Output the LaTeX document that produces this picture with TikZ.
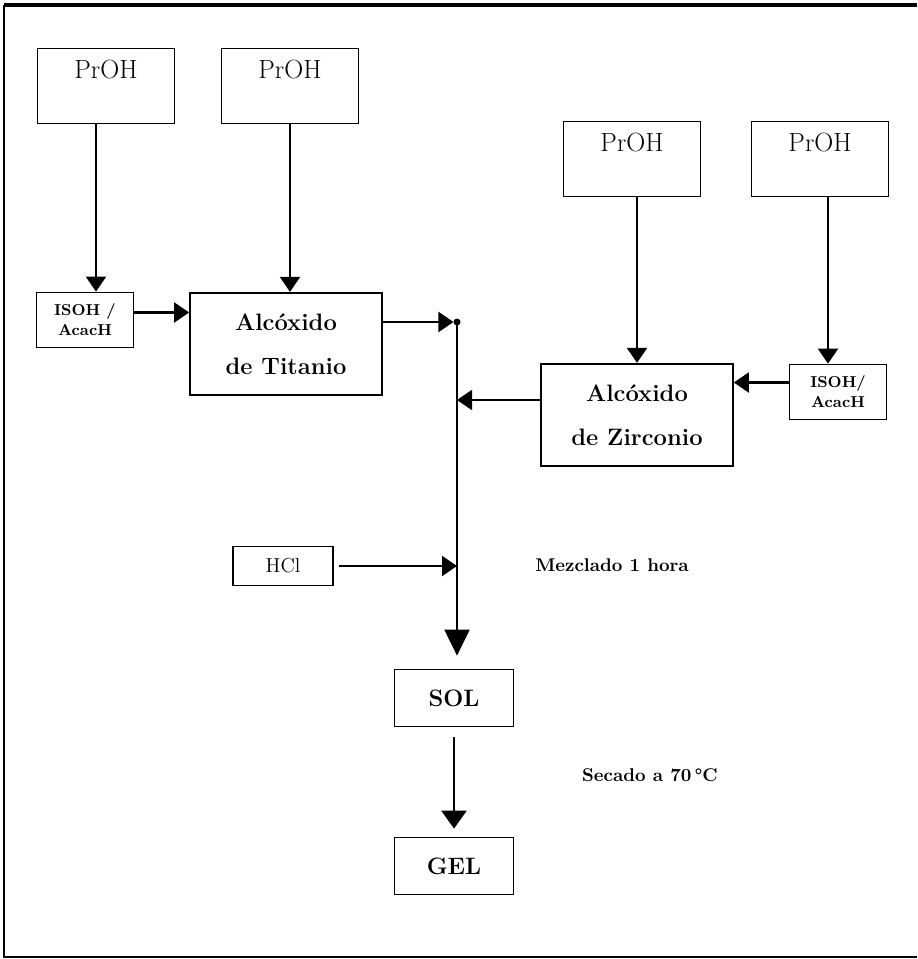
\documentclass[tikz,border=0pt]{standalone}
\usepackage{tikz}
\usetikzlibrary{arrows.meta, positioning}
\tikzset{
  src/.style={rectangle, draw, line width=1pt, minimum width=2.74cm, inner ysep=0.27cm, text height=0.34cm, text depth=0.62cm, font=\fontsize{15}{18}\selectfont},
  rxn/.style={rectangle, draw, line width=1pt, minimum width=3.84cm, minimum height=2.05cm, align=center, font=\fontsize{13.5}{25}\selectfont\bfseries},
  aux/.style={rectangle, draw, line width=1pt, minimum width=1.94cm, minimum height=1.1cm, align=center, inner sep=2pt, font=\fontsize{9}{11.5}\selectfont\bfseries},
  hclbox/.style={rectangle, draw, line width=1pt, minimum width=2cm, minimum height=0.78cm, font=\fontsize{11.5}{13}\selectfont},
  prod/.style={rectangle, draw, line width=1pt, minimum width=2.38cm, minimum height=1.14cm, font=\fontsize{13.5}{16}\selectfont\bfseries},
  note/.style={font=\fontsize{10.5}{13}\selectfont\bfseries},
  arr/.style={-{Triangle[length=0.3cm, width=0.4cm]}, line width=1.2pt},
  arrbig/.style={-{Triangle[length=0.52cm, width=0.5cm]}, line width=1.2pt},
  arrmid/.style={-{Triangle[length=0.36cm, width=0.5cm]}, line width=1.4pt},
}
\begin{document}
\begin{tikzpicture}[x=0.02cm, y=-0.02cm]
\useasboundingbox (0,0) rectangle (917,959);
% frame
\draw[line width=2.5pt] (4,5) -- (917,5);
\draw[line width=1pt] (917,957) -- (4,957) -- (4,5);
% sources
\node[src] (prA) at (106,86) {PrOH};
\node[src] (prB) at (290,86) {PrOH};
\node[src] (prC) at (632,159) {PrOH};
\node[src] (prD) at (820,159) {PrOH};
\node[aux] (isoL) at (85,320) {ISOH /\\AcacH};
\node[rxn] (ti) at (286,344) {Alc\'oxido\\de Titanio};
\node[rxn] (zr) at (637,415) {Alc\'oxido\\de Zirconio};
\node[aux] (isoR) at (838,392) {ISOH/\\AcacH};
\node[hclbox] (hcl) at (283,566) {HCl};
\node[prod] (sol) at (454,698) {SOL};
\node[prod] (gel) at (454,866) {GEL};
\node[note] (mez) at (612,565) {Mezclado 1 hora};
\node[note] (sec) at (650,775) {Secado a 70\,°C};
\coordinate (jn) at (457,322);
\fill (jn) circle (0.07cm);
% arrows
\coordinate (a1) at ([xshift=-0.2cm]prA.south);
\coordinate (a4) at ([xshift=0.16cm]prD.south);
\draw[arr] (a1) -- (a1 |- isoL.north);
\draw[arr] (prB.south) -- (prB.south |- ti.north);
\draw[arr] (zr.north |- prC.south) -- (zr.north);
\draw[arr] (a4) -- (a4 |- isoR.north);
\draw[arr] ([yshift=0.15cm]isoL.east) -- ([yshift=0.15cm]isoL.east -| ti.west);
\draw[arr, shorten >=2pt] (ti.east |- jn) -- (jn);
\draw[arr] ([yshift=0.19cm]isoR.west) -- ([yshift=0.19cm]isoR.west -| zr.east);
\draw[arr] ([yshift=0.3cm]zr.west) -- ([yshift=0.3cm]zr.west -| jn);
\draw[arr] ([xshift=0.1cm]hcl.east) -- (hcl.east -| jn);
\draw[arrbig, shorten >=0.26cm] (jn) -- (jn |- sol.north);
\draw[arrmid, shorten <=0.2cm, shorten >=0.16cm] (sol.south) -- (gel.north);
\end{tikzpicture}
\end{document}
